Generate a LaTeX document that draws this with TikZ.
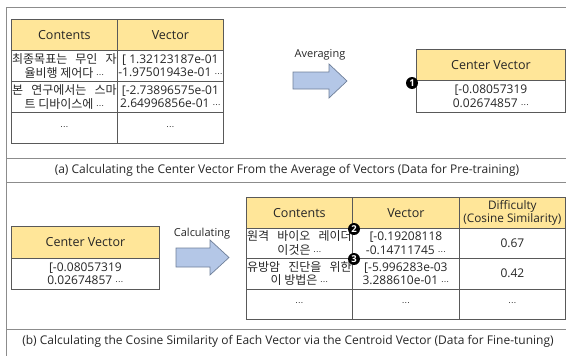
\documentclass[tikz,border=0pt]{standalone}
\usepackage{fontspec}
\setmainfont{Open Sans}
\newfontfamily\krfont{Noto Sans CJK KR}
\newfontfamily\djvfont{DejaVu Sans}
\definecolor{hdrfill}{HTML}{FFE699}
\definecolor{cellline}{HTML}{595959}
\definecolor{frameline}{HTML}{8C8C8C}
\definecolor{arrowfill}{HTML}{B4C7E7}
\definecolor{arrowline}{HTML}{6F7F99}
\definecolor{txt}{HTML}{262626}
\newcommand\dotsk{{\djvfont\fontsize{8}{8}\selectfont ⋯}}
\newcommand\krl[1]{{\krfont\makebox[104.5pt][s]{#1}}}
\begin{document}
\begin{tikzpicture}[x=1pt,y=-1pt,
  cell/.style={draw=cellline, line width=0.8pt, inner sep=0pt, anchor=north west, align=center,
    font=\fontsize{12}{13.5}\selectfont, text=txt},
  kcell/.style={cell, font=\fontsize{12}{13.5}\selectfont},
  hdr/.style={cell, fill=hdrfill, font=\fontsize{12.5}{14}\selectfont},
  bul/.style={circle, fill=black, text=white, inner sep=0pt, minimum size=12pt,
    font=\fontsize{9.5}{9.5}\selectfont\bfseries},
  frame/.style={draw=frameline, line width=0.8pt},
  blk/.style={fill=arrowfill, draw=arrowline, line width=0.7pt, line join=miter},
  lbl/.style={font=\fontsize{11}{12}\selectfont, text=txt, inner sep=0pt},
  captxt/.style={font=\fontsize{12}{13}\selectfont, text=txt, inner sep=0pt}]
\useasboundingbox (0,0) rectangle (566,356);
% frame
\draw[frame] (566,7) -- (6.5,7) -- (6.5,356);
\draw[frame] (6.5,158) -- (566,158);
\draw[frame] (6.5,182.5) -- (566,182.5);
\draw[frame] (6.5,329) -- (566,329);
\node[captxt] (capa) at (287,170) {(a) Calculating the Center Vector From the Average of Vectors (Data for Pre-training)};
\node[captxt] (capb) at (288,341.5) {(b) Calculating the Cosine Similarity of Each Vector via the Centroid Vector (Data for Fine-tuning)};
% table a
\node[hdr, minimum width=106pt, minimum height=31pt] (ah1) at (11,19) {Contents};
\node[hdr, minimum width=106pt, minimum height=31pt] (ah2) at (117,19) {Vector};
\node[kcell, minimum width=106pt, minimum height=31pt] (a11) at (11,50) {\krl{최종목표는 무인 자}\\{\krfont 율비행 제어다 }\dotsk};
\node[cell, minimum width=106pt, minimum height=31pt] (a12) at (117,50) {[ 1.32123187e-01\\-1.97501943e-01 \dotsk};
\node[kcell, minimum width=106pt, minimum height=31pt] (a21) at (11,81) {\krl{본 연구에서는 스마}\\{\krfont 트 디바이스에 }\dotsk};
\node[cell, minimum width=106pt, minimum height=31pt] (a22) at (117,81) {[-2.73896575e-01\\2.64996856e-01 \dotsk};
\node[cell, minimum width=106pt, minimum height=31pt] (a31) at (11,112) {\dotsk};
\node[cell, minimum width=106pt, minimum height=31pt] (a32) at (117,112) {\dotsk};
% arrow a
\node[lbl] (avg) at (320,55) {Averaging};
\draw[blk] (293,72) -- (329,72) -- (329,64) -- (347,81) -- (329,98) -- (329,89) -- (293,89) -- cycle;
% center vector a
\node[hdr, minimum width=149pt, minimum height=31pt] (cah) at (416,49) {Center Vector};
\node[cell, minimum width=149pt, minimum height=32pt] (cab) at (416,80) {[-0.08057319\\0.02674857 \dotsk};
\node[bul] (b1) at (412,83) {1};
% center vector b
\node[hdr, minimum width=148pt, minimum height=32pt] (cbh) at (11,226) {Center Vector};
\node[cell, minimum width=148pt, minimum height=31pt] (cbb) at (11,258) {[-0.08057319\\0.02674857 \dotsk};
% arrow b
\node[lbl] (calc) at (202,234) {Calculating};
\draw[blk] (176,248) -- (210,248) -- (210,240) -- (229,257.5) -- (210,275) -- (210,267) -- (176,267) -- cycle;
% table b
\node[hdr, minimum width=106pt, minimum height=30.5pt] (bh1) at (246,197) {Contents};
\node[hdr, minimum width=107pt, minimum height=30.5pt] (bh2) at (352,197) {Vector};
\node[hdr, minimum width=106pt, minimum height=30.5pt, font=\fontsize{11.8}{13}\selectfont] (bh3) at (459,197) {Difficulty\\(Cosine Similarity)};
\node[kcell, minimum width=106pt, minimum height=30.5pt] (b11) at (246,227.5) {\krl{원격 바이오 레이더}\\{\krfont 이것은 }\dotsk};
\node[cell, minimum width=107pt, minimum height=30.5pt] (b12) at (352,227.5) {[-0.19208118\\-0.14711745 \dotsk};
\node[cell, minimum width=106pt, minimum height=30.5pt] (b13) at (459,227.5) {0.67};
\node[kcell, minimum width=106pt, minimum height=30.5pt] (b21) at (246,258) {\krl{유방암 진단을 위한}\\{\krfont 이 방법은 }\dotsk};
\node[cell, minimum width=107pt, minimum height=30.5pt] (b22) at (352,258) {[-5.996283e-03\\3.288610e-01 \dotsk};
\node[cell, minimum width=106pt, minimum height=30.5pt] (b23) at (459,258) {0.42};
\node[cell, minimum width=106pt, minimum height=30.5pt] (b31) at (246,288.5) {\dotsk};
\node[cell, minimum width=107pt, minimum height=30.5pt] (b32) at (352,288.5) {\dotsk};
\node[cell, minimum width=106pt, minimum height=30.5pt] (b33) at (459,288.5) {\dotsk};
\node[bul] (b2) at (354,229) {2};
\node[bul] (b3) at (354,259) {3};
\end{tikzpicture}
\end{document}
